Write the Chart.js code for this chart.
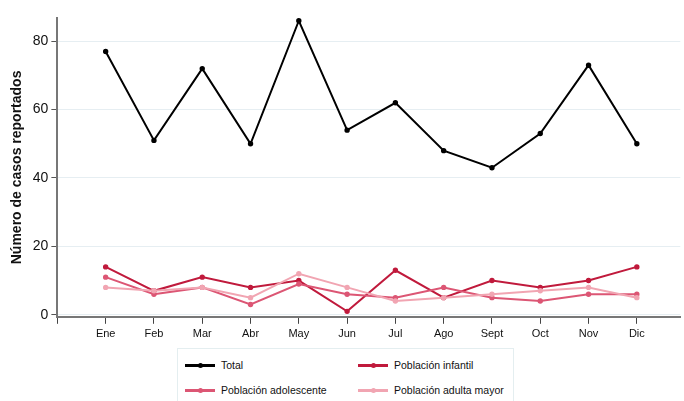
<!DOCTYPE html>
<html>
<head>
<meta charset="utf-8">
<script src="https://cdn.jsdelivr.net/npm/chart.js@4"></script>
<style>
  body { margin: 0; background: #fff; font-family: "Liberation Sans", Arial, sans-serif; }
  #wrap { position: relative; width: 684px; height: 401px; overflow: hidden; }
  #box { position: absolute; left: 0; top: 0; width: 684px; height: 345px; }
  #legend { position: absolute; left: 177px; top: 348px; width: 337px; height: 60px;
            border: 1px solid #e4eef0; box-sizing: border-box; font-size: 10.5px; color: #111; }
  .item { position: absolute; display: flex; align-items: center; }
  .sw { position: relative; width: 30px; height: 3px; margin-right: 6px; }
  .sw i { position: absolute; left: 13px; top: -1px; width: 5px; height: 5px; border-radius: 50%; }
</style>
</head>
<body>
<div id="wrap">
  <div id="box"><canvas id="myChart"></canvas></div>
  <div id="legend"></div>
</div>
<script>
const months = ['Ene', 'Feb', 'Mar', 'Abr', 'May', 'Jun', 'Jul', 'Ago', 'Sept', 'Oct', 'Nov', 'Dic'];
const total = [77, 51, 72, 50, 86, 54, 62, 48, 43, 53, 73, 50];
const infantil = [14, 7, 11, 8, 10, 1, 13, 5, 10, 8, 10, 14];
const adolescente = [11, 6, 8, 3, 9, 6, 5, 8, 5, 4, 6, 6];
const adultaMayor = [8, 7, 8, 5, 12, 8, 4, 5, 6, 7, 8, 5];
const yTicks = [0, 20, 40, 60, 80];

const series = [
    { label: 'Total', data: total, color: '#000000' },
    { label: 'Población infantil', data: infantil, color: '#c01a3c' },
    { label: 'Población adolescente', data: adolescente, color: '#dc5674' },
    { label: 'Población adulta mayor', data: adultaMayor, color: '#f1a5b2' }
];

// datasets drawn back to front so Total sits on top
const datasets = series.map(s => ({
    label: s.label,
    data: s.data.map((v, i) => ({ x: i + 1, y: v })),
    borderColor: s.color,
    backgroundColor: s.color,
    borderWidth: 2,
    pointRadius: 1.7,
    pointHoverRadius: 1.7,
    tension: 0
})).reverse();

const ctx = document.getElementById('myChart').getContext('2d');
const chart = new Chart(ctx, {
    type: 'line',
    data: { datasets: datasets },
    options: {
        responsive: true,
        maintainAspectRatio: false,
        animation: false,
        layout: { padding: { top: 18, right: 0, left: 9, bottom: 0 } },
        plugins: { legend: { display: false }, tooltip: { enabled: false } },
        scales: {
            x: {
                type: 'linear',
                min: 0,
                max: 12.9,
                afterBuildTicks: scale => {
                    scale.ticks = [];
                    for (let i = 0; i <= 12; i++) scale.ticks.push({ value: i });
                },
                ticks: {
                    autoSkip: false,
                    maxRotation: 0,
                    padding: 4,
                    color: '#111',
                    font: { family: 'Liberation Sans', size: 11 },
                    callback: v => months[v - 1] || ''
                },
                grid: { drawOnChartArea: false, drawTicks: true, tickLength: 7, tickColor: '#444', lineWidth: 1 },
                border: { color: '#777', width: 2 }
            },
            y: {
                min: -0.6,
                max: 86.8,
                afterBuildTicks: scale => {
                    scale.ticks = yTicks.map(v => ({ value: v }));
                },
                ticks: {
                    color: '#111',
                    padding: 3,
                    font: { family: 'Liberation Sans', size: 14 }
                },
                grid: { color: '#e6eef2', lineWidth: 1, drawTicks: true, tickLength: 6, tickColor: '#555' },
                border: { color: '#777', width: 2 },
                title: {
                    display: true,
                    text: 'Número de casos reportados',
                    color: '#111',
                    font: { family: 'Liberation Sans', size: 14, weight: 'bold' },
                    padding: { top: 0, bottom: 4 }
                }
            }
        }
    }
});

// HTML legend, two columns like the original
const legend = document.getElementById('legend');
const spots = [[7, 10], [180, 10], [7, 35], [180, 35]];
series.forEach((s, i) => {
    const el = document.createElement('div');
    el.className = 'item';
    el.style.left = spots[i][0] + 'px';
    el.style.top = spots[i][1] + 'px';
    el.innerHTML = '<span class="sw" style="background:' + s.color + '"><i style="background:' + s.color + '"></i></span>' + s.label;
    legend.appendChild(el);
});
</script>
</body>
</html>
